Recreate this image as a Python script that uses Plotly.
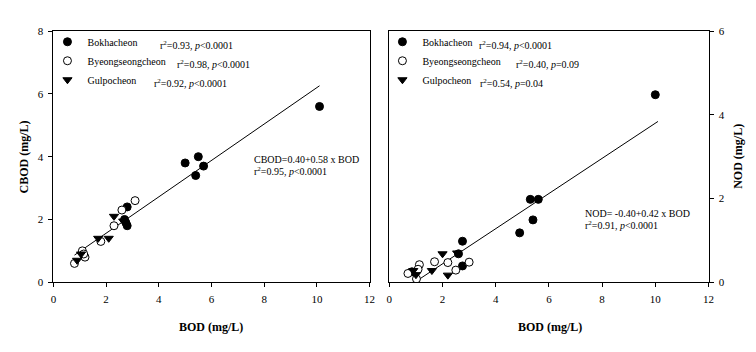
import plotly.graph_objects as go

# ---- data ----
# Left panel: CBOD vs BOD
bok_bod_l = [10.1, 5.0, 5.5, 5.4, 5.7, 2.8, 2.7, 2.75, 2.8]
bok_cbod = [5.6, 3.8, 4.0, 3.4, 3.7, 2.4, 2.0, 1.9, 1.8]
byo_bod_l = [0.8, 1.1, 1.2, 1.15, 1.8, 2.3, 2.6, 3.1]
byo_cbod = [0.6, 1.0, 0.8, 0.9, 1.3, 1.8, 2.3, 2.6]
gul_bod_l = [0.9, 1.05, 1.7, 2.1, 2.3, 2.65]
gul_cbod = [0.7, 0.9, 1.4, 1.4, 2.1, 1.95]

# Right panel: NOD vs BOD
bok_bod_r = [10.0, 5.3, 5.6, 5.4, 4.9, 2.75, 2.6, 2.75, 0.85]
bok_nod = [4.48, 1.98, 1.98, 1.49, 1.18, 0.98, 0.68, 0.39, 0.25]
byo_bod_r = [3.0, 2.5, 2.2, 1.7, 1.13, 1.08, 0.7, 1.02]
byo_nod = [0.48, 0.29, 0.47, 0.49, 0.42, 0.31, 0.21, 0.08]
gul_bod_r = [2.0, 2.55, 1.6, 2.2, 0.9, 1.0]
gul_nod = [0.68, 0.70, 0.28, 0.17, 0.28, 0.18]

# regression coefficients (intercept, slope) and x-range of fitted line
cbod_fit = (0.40, 0.58)
cbod_fit_x = [0.8, 10.1]
nod_fit = (-0.40, 0.42)
nod_fit_x = [1.0, 10.1]

x_ticks = [0, 2, 4, 6, 8, 10, 12]
cbod_ticks = [0, 2, 4, 6, 8]
nod_ticks = [0, 2, 4, 6]

FONT = "Liberation Serif"
W, H = 756, 352

fig = go.Figure()

def mk(symbol, filled):
    return dict(symbol=symbol, size=8,
                color="black" if filled else "white",
                line=dict(color="black", width=1))

# left panel
fig.add_trace(go.Scatter(x=cbod_fit_x, y=[cbod_fit[0] + cbod_fit[1] * v for v in cbod_fit_x],
                         mode="lines", line=dict(color="black", width=1),
                         showlegend=False, xaxis="x", yaxis="y"))
fig.add_trace(go.Scatter(x=bok_bod_l, y=bok_cbod, mode="markers", marker=mk("circle", True),
                         name="Bokhacheon", legend="legend", xaxis="x", yaxis="y"))
fig.add_trace(go.Scatter(x=byo_bod_l, y=byo_cbod, mode="markers", marker=mk("circle", False),
                         name="Byeongseongcheon", legend="legend", xaxis="x", yaxis="y"))
fig.add_trace(go.Scatter(x=gul_bod_l, y=gul_cbod, mode="markers", marker=mk("triangle-down", True),
                         name="Gulpocheon", legend="legend", xaxis="x", yaxis="y"))

# right panel
fig.add_trace(go.Scatter(x=nod_fit_x, y=[nod_fit[0] + nod_fit[1] * v for v in nod_fit_x],
                         mode="lines", line=dict(color="black", width=1),
                         showlegend=False, xaxis="x2", yaxis="y2"))
fig.add_trace(go.Scatter(x=bok_bod_r, y=bok_nod, mode="markers", marker=mk("circle", True),
                         name="Bokhacheon", legend="legend2", xaxis="x2", yaxis="y2"))
fig.add_trace(go.Scatter(x=byo_bod_r, y=byo_nod, mode="markers", marker=mk("circle", False),
                         name="Byeongseongcheon", legend="legend2", xaxis="x2", yaxis="y2"))
fig.add_trace(go.Scatter(x=gul_bod_r, y=gul_nod, mode="markers", marker=mk("triangle-down", True),
                         name="Gulpocheon", legend="legend2", xaxis="x2", yaxis="y2"))

y_dom = [(H - 286) / H, (H - 26) / H]
axis_common = dict(showline=True, linecolor="black", linewidth=1, mirror=True,
                   ticks="outside", ticklen=4, tickcolor="black", tickwidth=1,
                   showgrid=False, zeroline=False, ticklabelstandoff=3,
                   tickfont=dict(family=FONT, size=11, color="black"))

LEG_FONT = dict(family=FONT, size=10, color="black")
fig.update_layout(
    width=W, height=H,
    margin=dict(l=0, r=0, t=0, b=0),
    paper_bgcolor="white", plot_bgcolor="white",
    font=dict(family=FONT, size=11, color="black"),
    xaxis=dict(domain=[51 / W, 371 / W], range=[0, 12], tickvals=x_ticks, anchor="y", **axis_common),
    yaxis=dict(domain=y_dom, range=[0, 8], tickvals=cbod_ticks, anchor="x", **axis_common),
    xaxis2=dict(domain=[391 / W, 714 / W], range=[0, 12], tickvals=x_ticks, anchor="y2", **axis_common),
    yaxis2=dict(domain=y_dom, range=[0, 6], tickvals=nod_ticks, anchor="x2", side="right", **axis_common),
    legend=dict(x=45 / W, y=1 - 22 / H, xanchor="left", yanchor="top",
                bgcolor="rgba(0,0,0,0)", font=LEG_FONT, tracegroupgap=0, itemwidth=30),
    legend2=dict(x=384 / W, y=1 - 22 / H, xanchor="left", yanchor="top",
                 bgcolor="rgba(0,0,0,0)", font=LEG_FONT, tracegroupgap=0, itemwidth=30),
)

def ann(px, py, text, xanchor="left", size=10, bold=False, angle=0):
    if bold:
        text = "<b>" + text + "</b>"
    fig.add_annotation(x=px / W, y=1 - py / H, xref="paper", yref="paper",
                       text=text, showarrow=False, xanchor=xanchor, yanchor="middle",
                       textangle=angle, font=dict(family=FONT, size=size, color="black"))

# stats next to legends
ann(157, 40, "r<sup>2</sup>=0.93, <i>p</i><0.0001")
ann(174, 60, "r<sup>2</sup>=0.98, <i>p</i><0.0001")
ann(151, 80, "r<sup>2</sup>=0.92, <i>p</i><0.0001")
ann(480, 40, "r<sup>2</sup>=0.94, <i>p</i><0.0001")
ann(517, 60, "r<sup>2</sup>=0.40, <i>p</i>=0.09")
ann(481, 80, "r<sup>2</sup>=0.54, <i>p</i>=0.04")

# regression equations
ann(252, 159, "CBOD=0.40+0.58 x BOD")
ann(252, 171, "r<sup>2</sup>=0.95, <i>p</i><0.0001")
ann(587, 215, "NOD= -0.40+0.42 x BOD")
ann(587, 227, "r<sup>2</sup>=0.91, <i>p</i><0.0001")

# axis titles
ann(211, 332, "BOD (mg/L)", xanchor="center", size=12, bold=True)
ann(554, 332, "BOD (mg/L)", xanchor="center", size=12, bold=True)
ann(21, 156, "CBOD (mg/L)", xanchor="center", size=12, bold=True, angle=-90)
ann(744, 156, "NOD (mg/L)", xanchor="center", size=12, bold=True, angle=-90)

fig.write_html("out.html")
